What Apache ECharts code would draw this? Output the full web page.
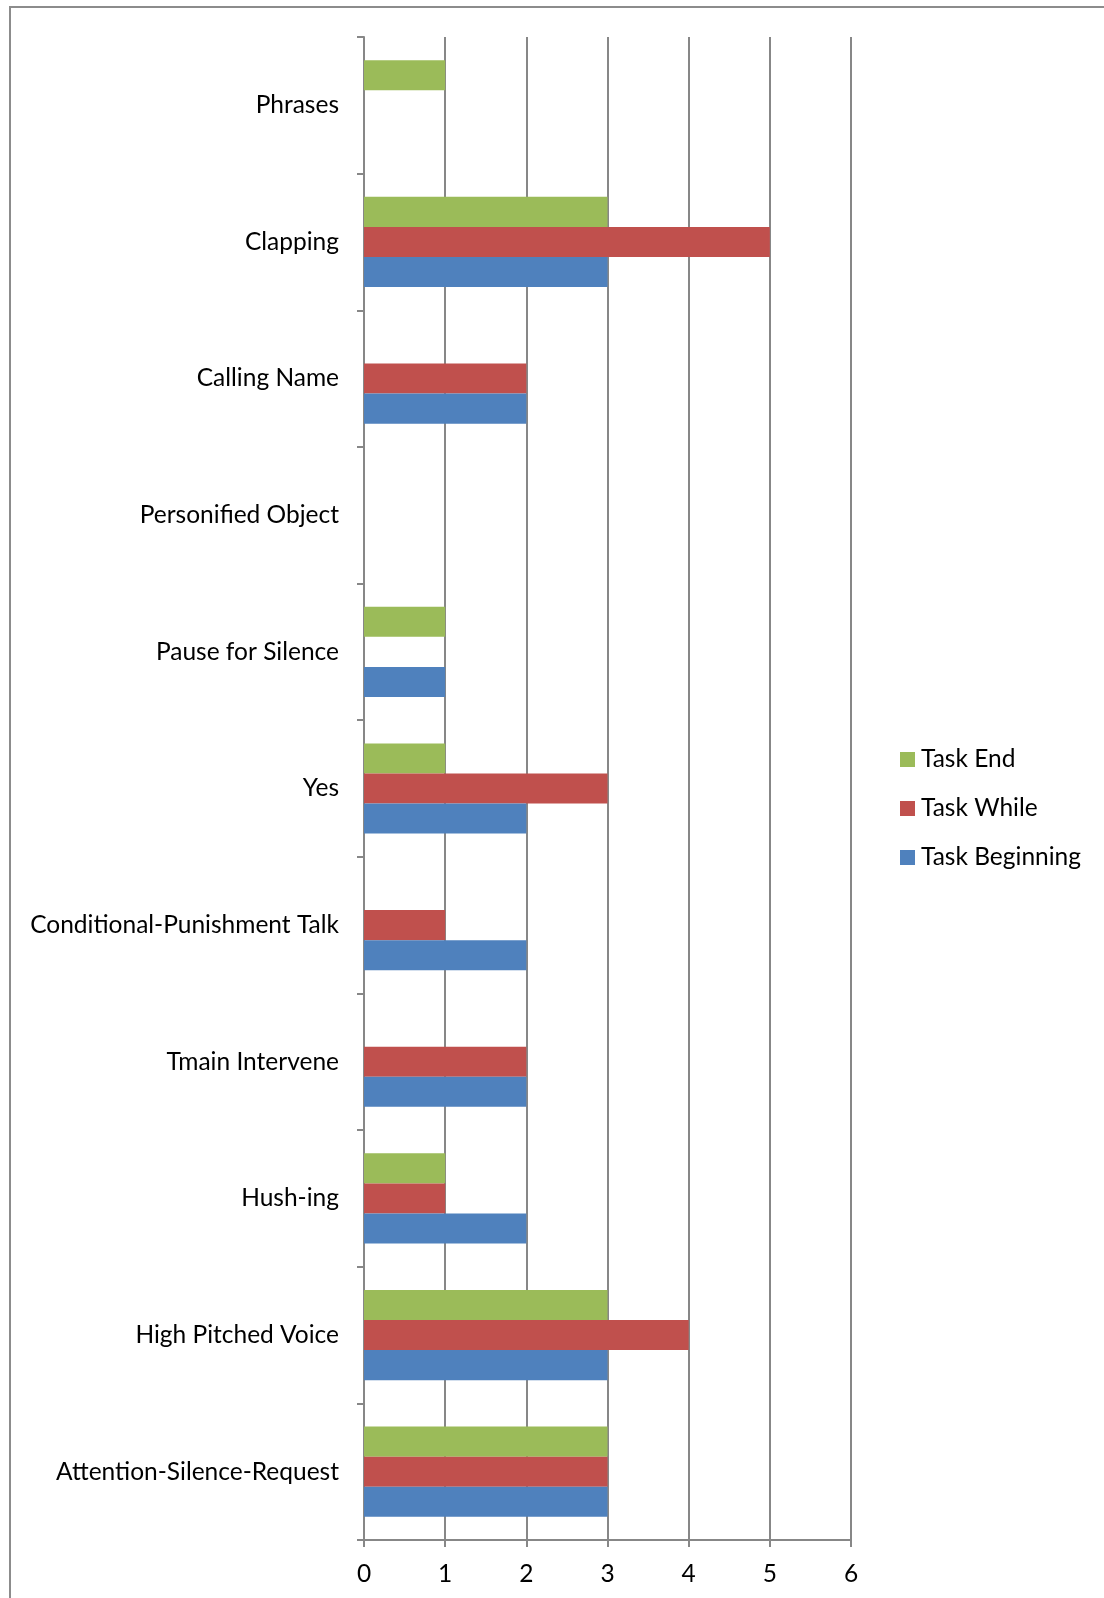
<!DOCTYPE html>
<html>
<head>
<meta charset="utf-8">
<script src="https://cdn.jsdelivr.net/npm/echarts@6/dist/echarts.min.js"></script>
<style>
  html, body { margin: 0; padding: 0; background: #fff; }
  #chart { width: 1104px; height: 1598px; }
</style>
</head>
<body>
<div id="chart"></div>
<script>
// Categories listed bottom to top along the vertical axis
const categories = [
  'Attention-Silence-Request',
  'High Pitched Voice',
  'Hush-ing',
  'Tmain Intervene',
  'Conditional-Punishment Talk',
  'Yes',
  'Pause for Silence',
  'Personified Object',
  'Calling Name',
  'Clapping',
  'Phrases'
];

const taskBeginning = [3, 3, 2, 2, 2, 2, 1, 0, 2, 3, 0];
const taskWhile     = [3, 4, 1, 2, 1, 3, 0, 0, 2, 5, 0];
const taskEnd       = [3, 3, 1, 0, 0, 1, 1, 0, 0, 3, 1];

const xTicks = [0, 1, 2, 3, 4, 5, 6];

const FONT = 'Lato, "Open Sans", sans-serif';
const GRID_GRAY = '#878787';

const chart = echarts.init(document.getElementById('chart'));

// Within each band the first series sits on top, so Task End comes first
const barCommon = { type: 'bar', barGap: '0%', barCategoryGap: '34%' };

chart.setOption({
  animation: false,
  backgroundColor: '#fff',
  textStyle: { fontFamily: FONT },
  graphic: [{
    type: 'rect',
    shape: { x: 10, y: 7, width: 1120, height: 1620 },
    style: { fill: 'none', stroke: '#8c8c8c', lineWidth: 2 },
    silent: true
  }],
  grid: { left: 364, top: 37, right: 253, bottom: 58 },
  legend: {
    orient: 'vertical',
    left: 895,
    top: 742,
    icon: 'rect',
    itemWidth: 15,
    itemHeight: 15,
    itemGap: 24,
    data: ['Task End', 'Task While', 'Task Beginning'],
    textStyle: { fontFamily: FONT, fontSize: 24.5, color: '#000', padding: [0, 0, 0, 1] }
  },
  xAxis: {
    type: 'value',
    min: xTicks[0],
    max: xTicks[xTicks.length - 1],
    interval: 1,
    axisLine: { show: true, lineStyle: { color: GRID_GRAY, width: 2 } },
    axisTick: { show: true, length: 7, lineStyle: { color: GRID_GRAY, width: 2 } },
    splitLine: { show: true, lineStyle: { color: GRID_GRAY, width: 2 } },
    axisLabel: {
      margin: 22,
      fontFamily: FONT,
      fontSize: 24.5,
      color: '#000',
      formatter: v => (xTicks.includes(v) ? String(v) : '')
    }
  },
  yAxis: {
    type: 'category',
    data: categories,
    axisLine: { show: true, lineStyle: { color: GRID_GRAY, width: 2 } },
    axisTick: { show: true, length: 7, lineStyle: { color: GRID_GRAY, width: 2 } },
    axisLabel: {
      margin: 25,
      fontFamily: FONT,
      fontSize: 24.5,
      color: '#000'
    }
  },
  series: [
    Object.assign({ name: 'Task End', data: taskEnd,
      itemStyle: { color: '#9BBB59' } }, barCommon),
    Object.assign({ name: 'Task While', data: taskWhile,
      itemStyle: { color: '#C0504D' } }, barCommon),
    Object.assign({ name: 'Task Beginning', data: taskBeginning,
      itemStyle: { color: '#4F81BD' } }, barCommon)
  ]
});
</script>
</body>
</html>
